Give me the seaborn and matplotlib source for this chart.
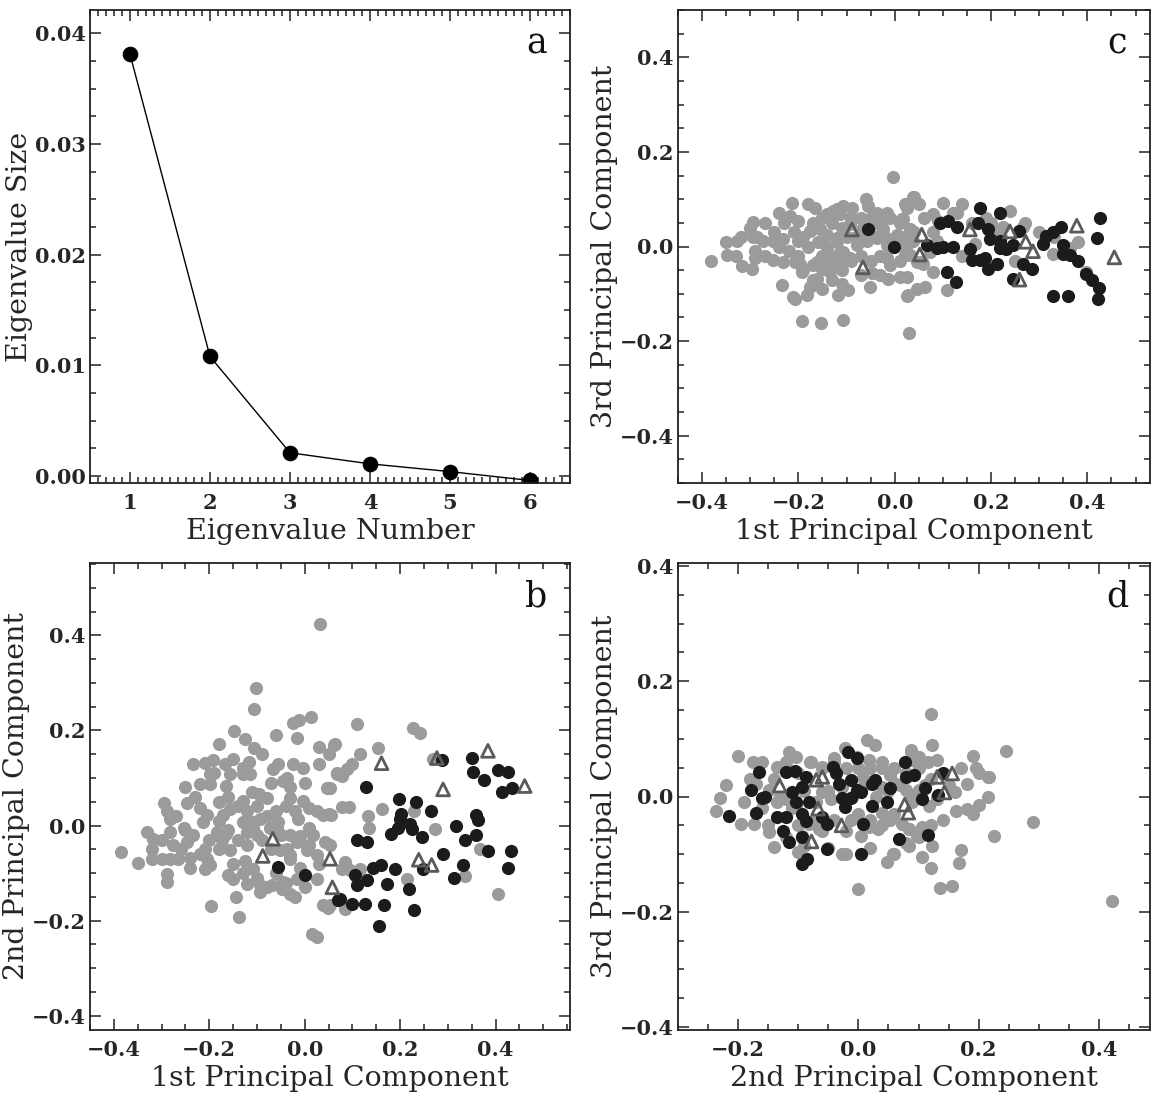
import matplotlib
matplotlib.use("Agg")
import matplotlib.pyplot as plt
import seaborn as sns
import pandas as pd
from matplotlib.ticker import MultipleLocator

# ---------------- data ----------------
eig_num = [1, 2, 3, 4, 5, 6]
eig_val = [0.0381, 0.0108, 0.0021, 0.0011, 0.0004, -0.0004]

# panel b : 1st vs 2nd principal component
b_gray = [
    (0.031, 0.424), (-0.103, 0.290), (-0.107, 0.246), (-0.025, 0.216), (-0.013, 0.222), (0.013, 0.229),
    (-0.017, 0.184), (-0.149, 0.199), (-0.126, 0.182), (-0.107, 0.163), (-0.180, 0.172), (0.029, 0.165),
    (0.061, 0.169), (-0.117, 0.133), (-0.235, 0.129), (-0.210, 0.131), (-0.193, 0.138), (-0.168, 0.129),
    (-0.130, 0.108), (-0.115, 0.108), (-0.067, 0.119), (-0.055, 0.129), (-0.025, 0.129), (-0.004, 0.121),
    (-0.038, 0.100), (-0.046, 0.093), (0.067, 0.108), (-0.220, 0.087), (-0.199, 0.087), (-0.199, 0.108),
    (-0.164, 0.083), (-0.157, 0.108), (0.046, 0.078), (-0.096, 0.066), (-0.078, 0.057), (-0.031, 0.057),
    (-0.294, 0.047), (-0.247, 0.047), (-0.130, 0.051), (-0.004, 0.051), (-0.220, 0.036), (-0.205, 0.023),
    (-0.214, 0.008), (-0.172, 0.023), (-0.157, 0.034), (-0.289, 0.030), (-0.283, 0.013), (0.010, 0.036),
    (0.025, 0.030), (0.038, 0.023), (0.050, 0.025), (-0.130, 0.008), (-0.109, 0.008), (-0.094, 0.013),
    (-0.055, 0.008), (-0.059, -0.006), (-0.015, 0.013), (-0.331, -0.013), (-0.283, -0.013), (-0.319, -0.028),
    (-0.252, -0.006), (-0.235, -0.019), (-0.247, -0.034), (-0.277, -0.040), (-0.184, -0.013), (-0.174, -0.030),
    (-0.164, -0.017), (-0.157, -0.051), (-0.210, -0.049), (-0.205, -0.070), (-0.122, -0.013), (-0.101, -0.019),
    (-0.109, -0.006), (-0.073, -0.006), (-0.031, -0.019), (-0.017, -0.034), (-0.010, -0.023), (-0.052, -0.051),
    (-0.038, -0.049), (-0.031, -0.061), (0.004, -0.051), (0.010, -0.006), (0.017, -0.019), (0.042, -0.034),
    (-0.384, -0.055), (-0.350, -0.078), (-0.321, -0.070), (-0.300, -0.070), (-0.283, -0.070), (-0.266, -0.070),
    (-0.241, -0.068), (-0.289, -0.102), (-0.289, -0.119), (-0.210, -0.091), (-0.199, -0.083), (-0.126, -0.074),
    (-0.109, -0.091), (-0.161, -0.104), (-0.151, -0.112), (-0.122, -0.123), (-0.094, -0.125), (-0.069, -0.125),
    (-0.048, -0.133), (-0.031, -0.144), (-0.046, -0.119), (-0.017, -0.112), (0.025, -0.061), (0.025, -0.112),
    (-0.197, -0.169), (-0.145, -0.150), (-0.138, -0.193), (-0.094, -0.140), (0.015, -0.229), (0.025, -0.235),
    (0.038, -0.167), (0.048, -0.174),
    (0.109, 0.214), (0.227, 0.205), (0.241, 0.195), (0.063, 0.172), (0.153, 0.163), (0.115, 0.150),
    (0.100, 0.129), (0.088, 0.119), (0.067, 0.110), (0.078, 0.104), (0.268, 0.140), (0.052, 0.078),
    (0.078, 0.038), (0.092, 0.038), (0.056, 0.023), (0.132, 0.019), (0.163, 0.034), (0.134, -0.006),
    (0.229, 0.030), (0.273, -0.008), (0.367, -0.049), (0.084, -0.076), (0.078, -0.091), (0.094, -0.093),
    (0.115, -0.091), (0.214, -0.112), (0.335, -0.106), (0.405, -0.144), (0.084, -0.176), (0.052, -0.167),
    (0.052, -0.040),
    (-0.250, 0.080), (-0.230, 0.060), (-0.180, 0.050), (-0.160, 0.060), (-0.140, 0.040), (-0.120, 0.030),
    (-0.100, 0.040), (-0.080, 0.020), (-0.060, 0.030), (-0.040, 0.040), (-0.020, 0.030), (-0.270, 0.020),
    (-0.250, -0.010), (-0.200, -0.030), (-0.180, -0.050), (-0.140, -0.030), (-0.120, -0.040), (-0.090, -0.030),
    (-0.070, -0.050), (-0.050, -0.020), (-0.030, -0.070), (-0.010, -0.090), (0.010, -0.040), (0.030, -0.080),
    (-0.150, -0.080), (-0.130, -0.100), (-0.100, -0.110), (-0.080, -0.130), (-0.060, -0.100), (-0.040, -0.120),
    (-0.020, -0.150), (0.000, -0.130), (-0.240, -0.090), (-0.220, -0.060), (-0.300, -0.030), (-0.320, -0.050),
    (-0.260, -0.050), (-0.180, 0.010), (-0.160, -0.010), (-0.110, 0.070), (-0.070, 0.090), (-0.030, 0.080),
    (0.000, 0.090), (-0.190, 0.110), (-0.150, 0.140), (-0.130, 0.120), (-0.090, 0.150), (0.030, 0.130),
    (0.050, 0.150), (-0.060, 0.190),
]
b_black = [
    (0.287, 0.137), (0.350, 0.142), (0.352, 0.112), (0.375, 0.095), (0.405, 0.116), (0.426, 0.112),
    (0.413, 0.070), (0.434, 0.078), (0.128, 0.080), (0.197, 0.055), (0.233, 0.049), (0.264, 0.030),
    (0.201, 0.025), (0.200, 0.013), (0.220, 0.004), (0.224, -0.008), (0.180, -0.017), (0.195, -0.006),
    (0.245, -0.025), (0.109, -0.030), (0.130, -0.034), (0.318, -0.002), (0.358, 0.023), (0.363, 0.011),
    (0.335, -0.030), (0.360, -0.020), (0.384, -0.053), (0.432, -0.053), (0.426, -0.089), (0.289, -0.059),
    (0.331, -0.083), (0.312, -0.110), (0.159, -0.083), (0.143, -0.089), (0.189, -0.091), (0.247, -0.091),
    (0.105, -0.104), (0.109, -0.125), (0.130, -0.114), (0.172, -0.123), (0.218, -0.134), (0.073, -0.155),
    (0.099, -0.165), (0.126, -0.165), (0.166, -0.168), (0.229, -0.178), (0.155, -0.212), (-0.057, -0.087),
    (0.000, -0.104), (0.069, -0.157),
]
b_tri = [
    (-0.088, -0.064), (-0.067, -0.028), (0.053, -0.070), (0.058, -0.130), (0.161, 0.131), (0.277, 0.142),
    (0.290, 0.076), (0.384, 0.157), (0.461, 0.083), (0.239, -0.072), (0.266, -0.083),
]

# panel c : 1st vs 3rd principal component
c_gray = [
    (-0.004, 0.146), (-0.214, 0.091), (-0.295, 0.051), (-0.166, 0.081), (-0.141, 0.068), (-0.218, 0.064),
    (-0.201, 0.053), (-0.108, 0.085), (-0.089, 0.081), (-0.056, 0.085), (-0.037, 0.070), (-0.017, 0.070),
    (-0.129, 0.074), (-0.114, 0.068), (0.017, 0.059), (0.041, 0.104), (0.025, 0.081), (-0.328, 0.011),
    (-0.295, 0.021), (-0.286, 0.021), (-0.274, 0.011), (-0.253, 0.011), (-0.232, 0.015), (-0.349, -0.017),
    (-0.382, -0.030), (-0.317, -0.042), (-0.297, -0.047), (-0.290, -0.025), (-0.253, -0.028), (-0.232, -0.032),
    (-0.207, -0.032), (-0.201, 0.011), (-0.176, 0.032), (-0.156, 0.036), (-0.141, 0.025), (-0.120, 0.017),
    (-0.193, -0.053), (-0.197, -0.038), (-0.234, -0.081), (-0.212, -0.106), (-0.207, -0.112), (-0.183, -0.102),
    (-0.176, -0.085), (-0.162, -0.068), (-0.162, -0.032), (-0.141, -0.025), (-0.120, -0.017), (-0.108, -0.011),
    (-0.151, -0.047), (-0.135, -0.053), (-0.114, -0.038), (-0.093, -0.025), (-0.118, -0.102), (-0.098, -0.091),
    (-0.193, -0.157), (-0.154, -0.161), (-0.108, -0.155), (-0.052, -0.085), (-0.015, -0.068), (0.010, -0.064),
    (-0.048, -0.057), (0.025, -0.104), (0.029, -0.182), (-0.079, 0.004), (-0.058, 0.011), (-0.037, 0.017),
    (-0.017, 0.004), (0.004, 0.025), (0.021, 0.004), (0.031, -0.017), (-0.093, 0.047), (-0.068, 0.038),
    (-0.046, 0.047), (-0.025, 0.038), (-0.017, -0.025), (0.046, -0.089), (0.056, -0.032),
    (0.037, 0.104), (0.100, 0.093), (0.129, 0.070), (0.079, 0.068), (0.089, 0.053), (0.239, 0.074),
    (0.266, 0.042), (0.224, 0.042), (0.021, 0.089), (0.015, 0.059), (0.031, 0.038), (0.025, 0.004),
    (0.037, 0.011), (0.021, -0.017), (0.046, -0.032), (0.025, -0.064), (0.058, -0.038), (0.073, -0.011),
    (0.087, 0.011), (0.079, -0.053), (0.062, -0.085), (0.027, -0.102), (0.108, -0.091), (0.328, -0.015),
    (0.363, -0.004), (0.398, -0.053), (0.212, -0.038), (0.166, 0.006),
    (-0.300, 0.040), (-0.270, 0.050), (-0.250, 0.030), (-0.230, 0.050), (-0.210, 0.030), (-0.190, 0.020),
    (-0.170, 0.050), (-0.150, 0.060), (-0.130, 0.050), (-0.110, 0.040), (-0.090, 0.060), (-0.070, 0.060),
    (-0.050, 0.060), (-0.030, 0.050), (-0.010, 0.060), (0.010, 0.050), (-0.290, -0.010), (-0.270, -0.020),
    (-0.240, 0.000), (-0.220, -0.010), (-0.200, -0.020), (-0.180, 0.000), (-0.160, 0.010), (-0.140, 0.000),
    (-0.120, 0.010), (-0.100, 0.020), (-0.080, 0.020), (-0.060, 0.020), (-0.040, 0.020), (-0.020, 0.020),
    (0.000, 0.010), (0.020, 0.020), (0.040, 0.030), (-0.190, -0.050), (-0.170, -0.040), (-0.150, -0.020),
    (-0.130, -0.030), (-0.110, -0.050), (-0.090, -0.030), (-0.070, -0.020), (-0.050, -0.030), (-0.030, -0.020),
    (-0.010, -0.040), (0.010, -0.030), (-0.170, -0.070), (-0.150, -0.090), (-0.130, -0.070), (-0.110, -0.080),
    (-0.070, -0.060), (-0.030, -0.060), (0.060, 0.060), (0.080, 0.030), (0.120, 0.070), (0.140, 0.090),
    (0.190, 0.060), (0.210, 0.030), (0.270, 0.050), (0.300, 0.030), (0.250, -0.030), (0.330, 0.020),
    (0.380, 0.010), (0.050, 0.090), (-0.060, 0.100), (-0.120, 0.080), (-0.180, 0.090), (-0.240, 0.070),
    (-0.320, 0.020), (-0.350, 0.010), (-0.330, -0.020), (0.160, 0.050), (0.200, 0.050), (0.220, 0.020),
    (0.140, -0.020),
]
c_black = [
    (-0.056, 0.036), (-0.002, -0.002), (0.178, 0.081), (0.218, 0.070), (0.093, 0.049), (0.110, 0.053),
    (0.129, 0.042), (0.100, 0.000), (0.120, 0.000), (0.068, 0.004), (0.172, 0.049), (0.193, 0.036),
    (0.197, 0.015), (0.218, 0.011), (0.156, -0.006), (0.160, -0.028), (0.176, -0.028), (0.187, -0.025),
    (0.193, -0.047), (0.212, -0.036), (0.218, -0.004), (0.232, -0.006), (0.245, 0.004), (0.259, 0.032),
    (0.108, -0.053), (0.127, -0.074), (0.245, -0.068), (0.266, -0.036), (0.286, -0.047), (0.315, 0.023),
    (0.328, 0.030), (0.346, 0.042), (0.307, 0.006), (0.349, 0.004), (0.349, -0.015), (0.363, -0.017),
    (0.380, -0.030), (0.427, 0.061), (0.419, 0.017), (0.398, -0.059), (0.409, -0.070), (0.425, -0.087),
    (0.421, -0.110), (0.328, -0.104), (0.359, -0.104), (0.087, -0.004),
]
c_tri = [
    (-0.089, 0.036), (-0.066, -0.044), (0.056, 0.025), (0.052, -0.017), (0.156, 0.036), (0.239, 0.032),
    (0.272, 0.010), (0.287, -0.010), (0.259, -0.070), (0.378, 0.044), (0.456, -0.023),
]

# panel d : 2nd vs 3rd principal component
d_gray = [
    (-0.230, -0.003), (-0.236, -0.026), (-0.196, -0.048), (-0.173, -0.048), (-0.176, 0.060), (-0.170, 0.021),
    (-0.135, 0.052), (-0.115, 0.078), (-0.103, 0.069), (-0.078, 0.059), (-0.148, 0.012), (-0.136, -0.010),
    (-0.148, -0.062), (-0.141, -0.088), (-0.101, -0.097), (-0.090, -0.086), (-0.023, 0.084), (0.015, 0.098),
    (0.027, 0.090), (-0.003, 0.069), (0.018, 0.064), (0.040, 0.050), (0.052, 0.038), (0.007, 0.034),
    (-0.027, 0.017), (-0.045, -0.005), (-0.060, 0.007), (-0.012, -0.040), (0.005, -0.069), (0.018, -0.053),
    (-0.027, -0.100), (0.000, -0.160), (0.052, -0.040), (0.032, -0.057), (0.040, -0.028), (0.073, -0.048),
    (0.085, -0.057), (0.097, -0.069), (0.047, -0.114), (0.057, -0.100), (0.088, 0.081), (0.090, 0.064),
    (0.040, 0.017), (0.060, 0.024), (0.080, 0.012), (-0.103, -0.017), (-0.120, -0.005), (-0.070, -0.040),
    (-0.082, -0.048), (-0.093, -0.069), (-0.065, -0.057), (-0.060, 0.052), (-0.040, 0.066),
    (0.120, 0.143), (0.245, 0.079), (0.123, 0.090), (0.088, 0.078), (0.101, 0.069), (0.115, 0.060),
    (0.130, 0.064), (0.190, 0.071), (0.196, 0.050), (0.215, 0.033), (0.218, 0.034), (0.181, 0.021),
    (0.160, 0.007), (0.215, 0.000), (0.201, -0.014), (0.163, -0.026), (0.180, -0.022), (0.290, -0.045),
    (0.226, -0.069), (0.090, -0.010), (0.101, 0.012), (0.118, -0.017), (0.130, -0.005), (0.085, -0.057),
    (0.106, -0.053), (0.123, -0.086), (0.085, -0.086), (0.105, -0.105), (0.121, -0.124), (0.170, -0.093),
    (0.168, -0.116), (0.135, -0.158), (0.156, -0.156), (0.421, -0.182),
    (-0.180, 0.030), (-0.160, 0.060), (-0.140, 0.030), (-0.120, 0.060), (-0.100, 0.040), (-0.080, 0.060),
    (-0.060, 0.050), (-0.040, 0.060), (-0.020, 0.050), (0.000, 0.050), (0.020, 0.050), (0.040, 0.060),
    (0.060, 0.050), (0.080, 0.040), (0.100, 0.050), (0.120, 0.030), (-0.190, -0.010), (-0.160, -0.020),
    (-0.130, 0.000), (-0.110, -0.020), (-0.090, 0.010), (-0.070, -0.010), (-0.050, 0.010), (-0.030, 0.020),
    (-0.010, 0.000), (0.010, 0.020), (0.030, 0.000), (0.050, 0.010), (0.070, 0.020), (0.090, 0.000),
    (0.110, 0.020), (0.130, 0.000), (0.150, 0.020), (-0.150, -0.050), (-0.120, -0.070), (-0.100, -0.050),
    (-0.060, -0.060), (-0.040, -0.040), (-0.020, -0.060), (0.000, -0.030), (0.020, -0.040), (0.040, -0.050),
    (0.060, -0.030), (0.080, -0.080), (0.100, -0.070), (0.120, -0.050), (0.140, -0.040), (-0.050, -0.090),
    (-0.020, -0.100), (0.020, -0.090), (0.060, -0.100), (0.170, 0.050), (0.190, -0.030), (0.200, 0.040),
    (-0.200, 0.070), (-0.220, 0.020),
]
d_black = [
    (-0.166, 0.043), (-0.178, 0.012), (-0.161, -0.002), (-0.156, 0.000), (-0.215, -0.034), (-0.170, -0.029),
    (-0.120, 0.043), (-0.106, 0.045), (-0.087, 0.034), (-0.093, 0.017), (-0.110, 0.007), (-0.103, -0.009),
    (-0.135, -0.036), (-0.120, -0.036), (-0.126, -0.060), (-0.115, -0.079), (-0.093, -0.031), (-0.087, -0.043),
    (-0.093, -0.071), (-0.053, -0.091), (-0.093, -0.117), (-0.085, -0.109), (-0.082, -0.010), (-0.043, 0.052),
    (-0.037, 0.041), (-0.032, 0.021), (-0.060, -0.036), (-0.053, -0.048), (-0.028, -0.002), (-0.023, -0.019),
    (-0.018, 0.078), (-0.002, 0.066), (-0.012, 0.029), (-0.003, 0.012), (0.005, 0.007), (-0.012, -0.002),
    (0.022, 0.021), (0.027, 0.029), (0.022, -0.017), (0.007, -0.048), (0.005, -0.100), (0.047, -0.010),
    (0.053, 0.014), (0.067, -0.074), (0.077, 0.059), (0.080, 0.034), (0.093, 0.038), (0.110, 0.014),
    (0.106, -0.005), (0.133, 0.003), (0.140, 0.041), (0.115, -0.067),
]
d_tri = [
    (-0.131, 0.019), (-0.070, 0.029), (-0.060, 0.034), (-0.067, -0.021), (-0.028, -0.050), (-0.078, -0.078),
    (0.077, -0.014), (0.083, -0.028), (0.131, 0.034), (0.156, 0.040), (0.143, 0.007),
]

a_xticks = [1, 2, 3, 4, 5, 6]
a_xlabels = ["1", "2", "3", "4", "5", "6"]
a_yticks = [0.00, 0.01, 0.02, 0.03, 0.04]
a_ylabels = ["0.00", "0.01", "0.02", "0.03", "0.04"]
pc_ticks = [-0.4, -0.2, 0.0, 0.2, 0.4]
pc_labels = ["\u22120.4", "\u22120.2", "0.0", "0.2", "0.4"]
d_xticks = [-0.2, 0.0, 0.2, 0.4]
d_xlabels = ["\u22120.2", "0.0", "0.2", "0.4"]

# ---------------- style ----------------
sns.set_theme(style="ticks")
plt.rcParams["font.family"] = ["DejaVu Serif"]
plt.rcParams["axes.linewidth"] = 1.3
plt.rcParams["axes.edgecolor"] = "#222222"

GRAY = "#9b9b9b"
BLACK = "#1b1b1b"
TRI = "#5a5a5a"
TICKFS = 15
LABFS = 20.5

W, H = 1159, 1104
fig = plt.figure(figsize=(W / 100, H / 100), dpi=100)
fig.patch.set_facecolor("white")


def box(l, t, r, b):
    return [l / W, 1 - b / H, (r - l) / W, (b - t) / H]


axa = fig.add_axes(box(90, 10, 570, 483))
axb = fig.add_axes(box(90, 563, 570, 1030))
axc = fig.add_axes(box(678, 10, 1150, 483))
axd = fig.add_axes(box(678, 563, 1150, 1030))


def style(ax, xt, xl, yt, yl, xminor, yminor, letter):
    ax.set_xticks(xt)
    ax.set_xticklabels(xl, fontweight="bold", fontsize=TICKFS)
    ax.set_yticks(yt)
    ax.set_yticklabels(yl, fontweight="bold", fontsize=TICKFS)
    ax.xaxis.set_minor_locator(MultipleLocator(xminor))
    ax.yaxis.set_minor_locator(MultipleLocator(yminor))
    ax.tick_params(which="both", direction="in", top=True, right=True, color="#222222", width=1.1)
    ax.tick_params(which="major", length=8)
    ax.tick_params(axis="x", which="major", pad=7)
    ax.tick_params(axis="y", which="major", pad=3)
    ax.tick_params(which="minor", length=4)
    for s in ax.spines.values():
        s.set_visible(True)
    ax.text(0.93, 0.965, letter, transform=ax.transAxes, fontsize=25, ha="center", va="top", color="#111111")


def scatter_panel(ax, gray, black, tri):
    gdf = pd.DataFrame(gray, columns=["x", "y"])
    kdf = pd.DataFrame(black, columns=["x", "y"])
    tdf = pd.DataFrame(tri, columns=["x", "y"])
    sns.scatterplot(data=gdf, x="x", y="y", ax=ax, color=GRAY, s=90, linewidth=0, zorder=2)
    sns.scatterplot(data=kdf, x="x", y="y", ax=ax, color=BLACK, s=90, linewidth=0, zorder=3)
    sns.scatterplot(data=tdf, x="x", y="y", ax=ax, marker="^", s=85, facecolor="none",
                    edgecolor=TRI, linewidth=2.0, zorder=4)


# panel a
adf = pd.DataFrame({"n": eig_num, "v": eig_val})
sns.lineplot(data=adf, x="n", y="v", ax=axa, color="black", linewidth=1.0, marker="o",
             markersize=10.5, markeredgecolor="black", markerfacecolor="black")
axa.set_xlim(0.5, 6.5)
axa.set_ylim(-0.00063, 0.0421)
style(axa, a_xticks, a_xlabels, a_yticks, a_ylabels, 0.1, 0.0025, "a")
axa.set_xlabel("Eigenvalue Number", fontsize=LABFS, labelpad=4)
axa.set_ylabel("Eigenvalue Size", fontsize=LABFS, labelpad=1)

# panel b
scatter_panel(axb, b_gray, b_black, b_tri)
axb.set_xlim(-0.45, 0.556)
axb.set_ylim(-0.43, 0.552)
style(axb, pc_ticks, pc_labels, pc_ticks, pc_labels, 0.05, 0.05, "b")
axb.set_xlabel("1st Principal Component", fontsize=LABFS, labelpad=4)
axb.set_ylabel("2nd Principal Component", fontsize=LABFS, labelpad=1)

# panel c
scatter_panel(axc, c_gray, c_black, c_tri)
axc.set_xlim(-0.45, 0.53)
axc.set_ylim(-0.50, 0.50)
style(axc, pc_ticks, pc_labels, pc_ticks, pc_labels, 0.05, 0.05, "c")
axc.set_xlabel("1st Principal Component", fontsize=LABFS, labelpad=4)
axc.set_ylabel("3rd Principal Component", fontsize=LABFS, labelpad=1)

# panel d
scatter_panel(axd, d_gray, d_black, d_tri)
axd.set_xlim(-0.30, 0.485)
axd.set_ylim(-0.405, 0.405)
style(axd, d_xticks, d_xlabels, pc_ticks, pc_labels, 0.05, 0.05, "d")
axd.set_xlabel("2nd Principal Component", fontsize=LABFS, labelpad=4)
axd.set_ylabel("3rd Principal Component", fontsize=LABFS, labelpad=1)

fig.savefig("out.png", dpi=100, facecolor="white")
